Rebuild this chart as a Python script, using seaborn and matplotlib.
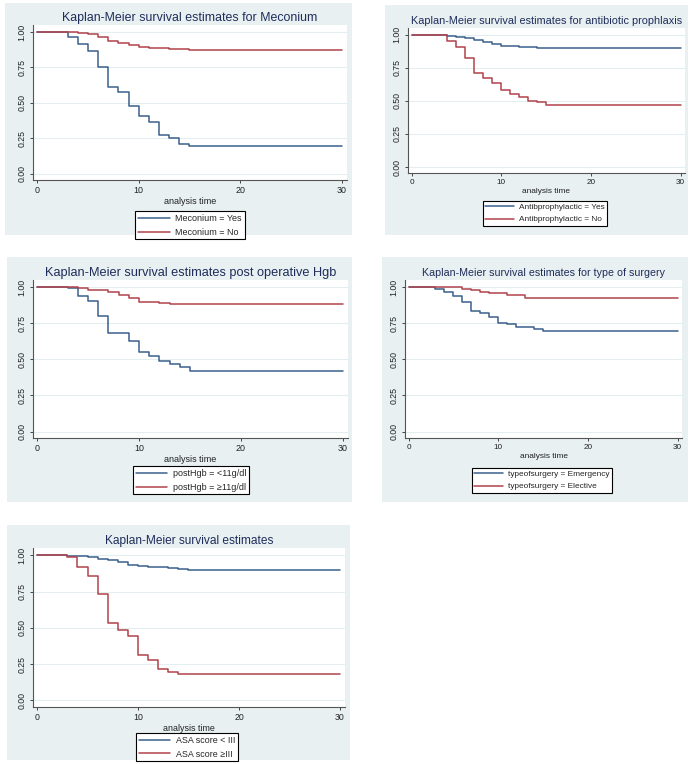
import pandas as pd
import matplotlib
matplotlib.use("Agg")
import matplotlib.pyplot as plt
import seaborn as sns
from matplotlib.patches import Rectangle

# ---- data (step times / survival) ----
mec_yes_t = [0, 3, 4, 5, 6, 7, 8, 9, 10, 11, 12, 13, 14, 15, 30]
mec_yes_s = [1, 0.965, 0.918, 0.864, 0.753, 0.612, 0.574, 0.48, 0.407, 0.367, 0.273, 0.254, 0.212, 0.193, 0.193]
mec_no_t = [0, 4, 5, 6, 7, 8, 9, 10, 11, 13, 15, 30]
mec_no_s = [1, 0.995, 0.986, 0.965, 0.934, 0.92, 0.911, 0.894, 0.887, 0.88, 0.873, 0.873]

abx_yes_t = [0, 3, 4, 5, 6, 7, 8, 9, 10, 12, 14, 30]
abx_yes_s = [1, 0.995, 0.988, 0.98, 0.971, 0.956, 0.944, 0.932, 0.917, 0.907, 0.898, 0.898]
abx_no_t = [0, 3, 4, 5, 6, 7, 8, 9, 10, 11, 12, 13, 14, 15, 30]
abx_no_s = [1, 0.995, 0.951, 0.907, 0.822, 0.712, 0.671, 0.634, 0.585, 0.554, 0.527, 0.5, 0.488, 0.468, 0.468]

hgb_lo_t = [0, 3, 4, 5, 6, 7, 9, 10, 11, 12, 13, 14, 15, 30]
hgb_lo_s = [1, 0.993, 0.94, 0.906, 0.80, 0.68, 0.629, 0.549, 0.526, 0.49, 0.467, 0.444, 0.416, 0.416]
hgb_hi_t = [0, 4, 5, 7, 8, 9, 10, 11, 12, 13, 14, 30]
hgb_hi_s = [1, 0.993, 0.982, 0.97, 0.947, 0.924, 0.90, 0.897, 0.89, 0.886, 0.881, 0.881]

emg_t = [0, 3, 4, 5, 6, 7, 8, 9, 10, 11, 12, 13, 14, 15, 30]
emg_s = [1, 0.991, 0.968, 0.939, 0.898, 0.837, 0.819, 0.795, 0.752, 0.743, 0.727, 0.722, 0.709, 0.698, 0.698]
elc_t = [0, 6, 7, 8, 9, 11, 13, 30]
elc_s = [1, 0.991, 0.98, 0.968, 0.959, 0.948, 0.925, 0.925]

asa_lo_t = [0, 3, 5, 6, 7, 8, 9, 10, 11, 12, 13, 14, 15, 30]
asa_lo_s = [1, 0.995, 0.989, 0.977, 0.966, 0.952, 0.936, 0.929, 0.922, 0.918, 0.911, 0.902, 0.897, 0.897]
asa_hi_t = [0, 3, 4, 5, 6, 7, 8, 9, 10, 11, 12, 13, 14, 30]
asa_hi_s = [1, 0.986, 0.918, 0.858, 0.735, 0.532, 0.486, 0.443, 0.315, 0.281, 0.215, 0.199, 0.185, 0.185]

titles = [
    "Kaplan-Meier survival estimates for Meconium",
    "Kaplan-Meier survival estimates for antibiotic prophlaxis",
    "Kaplan-Meier survival estimates post operative Hgb",
    "Kaplan-Meier survival estimates for type of surgery",
    "Kaplan-Meier survival estimates",
]
group_labels = [
    ["Meconium = Yes", "Meconium = No"],
    ["Antibprophylactic = Yes", "Antibprophylactic = No"],
    ["postHgb = <11g/dl", "postHgb = \u226511g/dl"],
    ["typeofsurgery = Emergency", "typeofsurgery = Elective"],
    ["ASA score < III", "ASA score \u2265III"],
]
curves = [
    [(mec_yes_t, mec_yes_s), (mec_no_t, mec_no_s)],
    [(abx_yes_t, abx_yes_s), (abx_no_t, abx_no_s)],
    [(hgb_lo_t, hgb_lo_s), (hgb_hi_t, hgb_hi_s)],
    [(emg_t, emg_s), (elc_t, elc_s)],
    [(asa_lo_t, asa_lo_s), (asa_hi_t, asa_hi_s)],
]
yticks = [0, 0.25, 0.5, 0.75, 1.0]
ytick_labels = ["0.00", "0.25", "0.50", "0.75", "1.00"]
xticks = [0, 10, 20, 30]

# ---- layout (pixels in a 700x764 canvas) ----
W, H = 700, 764
BLUE = "#3a5f8b"
RED = "#b2434c"
BG = "#e8f0f2"
NAVY = "#1e2d5a"

# background box, axes box, legend anchor (center x, top y), font scale
layout = [
    ((5, 3, 352, 235), (33, 25, 347, 180), (190, 211), 1.0),
    ((385, 5, 688, 235), (408, 28, 685, 173), (545, 201), 0.91),
    ((7, 257, 352, 502), (33, 280, 348, 438), (191, 466), 1.0),
    ((382, 257, 688, 502), (405, 280, 682, 438), (542, 468), 0.91),
    ((7, 525, 350, 760), (33, 548, 345, 707), (187, 733), 0.98),
]
title_sizes = [8.9, 7.8, 9.2, 7.7, 8.6]

sns.set_theme(style="white")
plt.rcParams["font.family"] = ["Liberation Sans", "DejaVu Sans"]

fig = plt.figure(figsize=(7, 7.64), dpi=100)


def frac(x0, y0, x1, y1):
    return [x0 / W, 1 - y1 / H, (x1 - x0) / W, (y1 - y0) / H]


for i in range(5):
    bgbox, axbox, (lx, ly), sc = layout[i]
    bx, by, bw, bh = frac(*bgbox)
    fig.add_artist(Rectangle((bx, by), bw, bh, transform=fig.transFigure,
                             facecolor=BG, edgecolor="none", zorder=-1))
    ax = fig.add_axes(frac(*axbox))

    rows = []
    for lab, (t, s) in zip(group_labels[i], curves[i]):
        for tt, ss in zip(t, s):
            rows.append({"time": tt, "surv": ss, "group": lab})
    df = pd.DataFrame(rows)

    sns.lineplot(data=df, x="time", y="surv", hue="group",
                 hue_order=group_labels[i], palette=[BLUE, RED],
                 drawstyle="steps-post", estimator=None, lw=1.1, ax=ax)

    ax.set_xlim(-0.4, 30.5)
    ax.set_ylim(-0.045, 1.05)
    ax.set_xticks(xticks)
    ax.set_xticklabels([str(v) for v in xticks], fontsize=6.4 * sc, color="#222222")
    ax.set_yticks(yticks)
    ax.set_yticklabels(ytick_labels, rotation=90, va="center",
                       fontsize=6.3, color="#222222")
    ax.tick_params(axis="both", length=2.5, width=0.7, color="#444444",
                   direction="out", pad=2, bottom=True, left=True)
    ax.yaxis.grid(True, color="#e4edf0", lw=0.8)
    ax.set_axisbelow(True)
    for side in ["top", "right"]:
        ax.spines[side].set_visible(False)
    for side in ["left", "bottom"]:
        ax.spines[side].set_color("#555555")
        ax.spines[side].set_linewidth(0.8)

    ax.set_ylabel("")
    ax.set_xlabel("analysis time", fontsize=6.5 * sc, color="#222222", labelpad=1)
    ax.set_title(titles[i], fontsize=title_sizes[i], color=NAVY, pad=3)

    sns.move_legend(ax, "upper center", bbox_to_anchor=(lx / W, 1 - ly / H),
                    bbox_transform=fig.transFigure, title=None, frameon=True,
                    fancybox=False, edgecolor="black", framealpha=1,
                    fontsize=6.5 * sc, handlelength=3.5, handletextpad=0.65,
                    labelspacing=0.55, borderpad=0.3, borderaxespad=0)
    leg = ax.get_legend()
    leg.get_frame().set_linewidth(0.8)
    for line in leg.get_lines():
        line.set_linewidth(1.1)

fig.savefig("out.png", dpi=100)
plt.close(fig)
